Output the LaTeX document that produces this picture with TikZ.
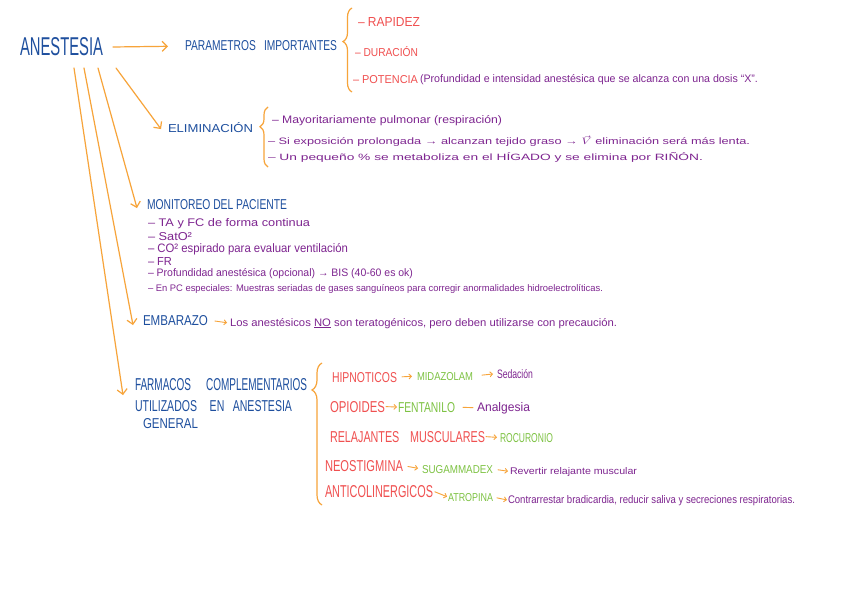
\documentclass[tikz,border=0pt]{standalone}
\usepackage{fontspec}
\setmainfont{Liberation Sans}
\usetikzlibrary{arrows.meta,decorations.pathreplacing,calc}
\definecolor{mblue}{HTML}{1E4F9E}
\definecolor{morange}{HTML}{F7A43A}
\definecolor{mred}{HTML}{F05050}
\definecolor{mpurple}{HTML}{7E2590}
\definecolor{mgreen}{HTML}{7DC242}
\newcommand{\fitt}[3]{\resizebox{#1pt}{#2pt}{#3}}
\tikzset{
  tx/.style={inner sep=0pt, outer sep=0pt, anchor=base west},
  ttl/.style={tx, text=mblue},
  itemr/.style={tx, text=mred},
  itemp/.style={tx, text=mpurple},
  itemg/.style={tx, text=mgreen},
  conn/.style={draw=morange, line width=1.2pt, line cap=round},
  oarr/.style={conn, -{Straight Barb[length=5pt,width=10pt]}},
  sarr/.style={draw=morange, line width=0.9pt, line cap=round, -{Straight Barb[length=2.5pt,width=5pt]}},
  obrace/.style={draw=morange, line width=1.2pt, decorate},
}
\begin{document}
\begin{tikzpicture}[x=1pt,y=-1pt]
\useasboundingbox[fill=white] (0,0) rectangle (848,599);

% main title and parameters
\node[ttl] (ane) at (20,56) {\fitt{83}{18}{ANESTESIA}};
\node[ttl] (par) at (185,51) {\fitt{152}{10}{PARAMETROS\hspace{0.8em}IMPORTANTES}};
\node[itemr] (rap) at (358,27) {\fitt{62}{9}{– RAPIDEZ}};
\node[itemr] (dur) at (355,57) {\fitt{63}{10}{– DURACIÓN}};
\node[itemr] (pot) at (353,84) {\fitt{65}{8}{– POTENCIA}};
\node[itemp] (potd) at (420,83) {\fitt{338}{8}{(Profundidad e intensidad anestésica que se alcanza con una dosis “X”.}};
\draw[oarr, shorten <=10pt, shorten >=17pt] (ane.east) -- (par.west);
\draw[obrace, decoration={brace, amplitude=9pt, aspect=0.6}] (352,92) -- (352,8);

% eliminacion
\node[ttl] (eli) at (168,132) {\fitt{85}{10}{ELIMINACIÓN}};
\node[itemp] (e1) at (272,124) {\fitt{230}{8}{– Mayoritariamente pulmonar (respiración)}};
\node[itemp] (e2) at (268,145) {\fitt{482}{9}{– Si exposición prolongada → alcanzan tejido graso → $\vec{V}$ eliminación será más lenta.}};
\node[itemp] (e3) at (268,160) {\fitt{435}{8}{– Un pequeño \% se metaboliza en el HÍGADO y se elimina por RIÑÓN.}};
\draw[obrace, decoration={brace, amplitude=8pt, aspect=0.67}] (268,167) -- (268,107);

% monitoreo
\node[ttl] (mon) at (147,209) {\fitt{140}{10}{MONITOREO DEL PACIENTE}};
\node[itemp] (m1) at (148,226) {\fitt{162}{8}{– TA y FC de forma continua}};
\node[itemp] (m2) at (148,240) {\fitt{44}{8}{– SatO²}};
\node[itemp] (m3) at (148,252) {\fitt{200}{9}{– CO² espirado para evaluar ventilación}};
\node[itemp] (m4) at (148,265) {\fitt{24}{8}{– FR}};
\node[itemp] (m5) at (148,276) {\fitt{265}{8}{– Profundidad anestésica (opcional) → BIS (40-60 es ok)}};
\node[itemp] (m6) at (148,291) {\fitt{455}{7}{– En PC especiales: Muestras seriadas de gases sanguíneos para corregir anormalidades hidroelectrolíticas.}};

% embarazo
\node[ttl] (emb) at (143,325) {\fitt{65}{10}{EMBARAZO}};
\node[itemp] (los) at (230,326) {\fitt{387}{8}{Los anestésicos \underline{NO} son teratogénicos, pero deben utilizarse con precaución.}};
\draw[sarr, shorten <=7pt, shorten >=3pt] (emb.east) -- (los.west);

% farmacos
\node[ttl] (far1) at (135,390) {\fitt{172}{12}{FARMACOS\hspace{1.5em}COMPLEMENTARIOS}};
\node[ttl] (far2) at (135,411) {\fitt{157}{11}{UTILIZADOS\hspace{1.2em}EN\hspace{0.8em}ANESTESIA}};
\node[ttl] (far3) at (143,428) {\fitt{55}{10}{GENERAL}};
\draw[obrace, decoration={brace, amplitude=10pt, aspect=0.81}] (322,505) -- (322,363);

\node[itemr] (hip) at (332,382) {\fitt{65}{10}{HIPNOTICOS}};
\node[itemg] (mid) at (417,380) {\fitt{56}{8}{MIDAZOLAM}};
\node[itemp] (sed) at (497,378) {\fitt{36}{9}{Sedación}};
\node[itemr] (opi) at (330,412) {\fitt{55}{11}{OPIOIDES}};
\node[itemg] (fen) at (398,412) {\fitt{57}{10}{FENTANILO}};
\node[itemp] (ana) at (477,411) {\fitt{53}{9}{Analgesia}};
\node[itemr] (rel) at (330,442) {\fitt{155}{11}{RELAJANTES\hspace{1em}MUSCULARES}};
\node[itemg] (roc) at (500,442) {\fitt{53}{9}{ROCURONIO}};
\node[itemr] (neo) at (325,471) {\fitt{78}{11}{NEOSTIGMINA}};
\node[itemg] (sug) at (422,473) {\fitt{71}{8}{SUGAMMADEX}};
\node[itemp] (rev) at (510,474) {\fitt{127}{7}{Revertir relajante muscular}};
\node[itemr] (ant) at (325,497) {\fitt{108}{12}{ANTICOLINERGICOS}};
\node[itemg] (atr) at (448,501) {\fitt{45}{8}{ATROPINA}};
\node[itemp] (con) at (508,503) {\fitt{287}{8}{Contrarrestar bradicardia, reducir saliva y secreciones respiratorias.}};

\draw[sarr, shorten <=5pt, shorten >=5pt] (hip.east) -- (mid.west);
\draw[sarr, shorten <=9pt, shorten >=4pt] (mid.east) -- (sed.west);
\draw[sarr, shorten <=1pt, shorten >=1pt] (opi.east) -- (fen.west);
\draw[conn, line width=0.9pt, shorten <=8pt, shorten >=4pt] (fen.east) -- (ana.west);
\draw[sarr, shorten <=1pt, shorten >=3pt] (rel.east) -- (roc.west);
\draw[sarr, shorten <=5pt, shorten >=4pt] (neo.east) -- (sug.west);
\draw[sarr, shorten <=5pt, shorten >=2pt] (sug.east) -- (rev.west);
\draw[sarr, shorten <=2pt, shorten >=1pt] (ant.east) -- (atr.west);
\draw[sarr, shorten <=4pt, shorten >=1pt] (atr.east) -- (con.west);

% branches from ANESTESIA
\coordinate (s1) at (74,68);
\coordinate (s2) at (84,68);
\coordinate (s3) at (98,68);
\coordinate (s4) at (116,68);
\draw[oarr] (s4) -- ($(eli.west)+(-7,2)$);
\draw[oarr] (s3) -- ($(mon.west)+(-10,4)$);
\draw[oarr] (s2) -- ($(emb.west)+(-10,5)$);
\draw[oarr] (s1) -- ($(far1.west)+(-12,11)$);
\end{tikzpicture}
\end{document}
